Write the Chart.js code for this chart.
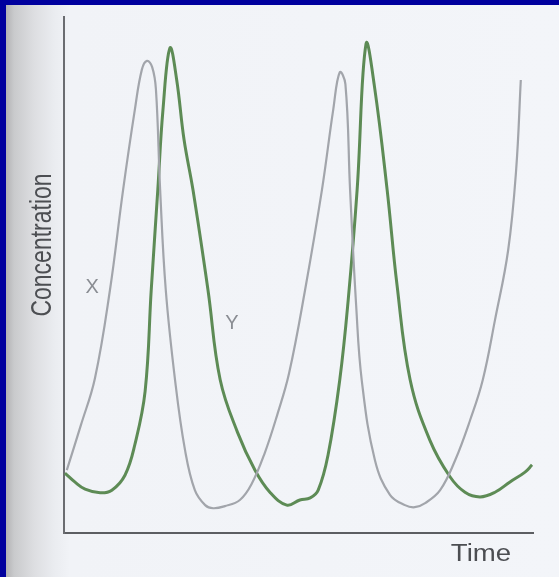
<!DOCTYPE html>
<html>
<head>
<meta charset="utf-8">
<script src="https://cdn.jsdelivr.net/npm/chart.js@4.4.0/dist/chart.umd.min.js"></script>
<style>
  html, body { margin: 0; padding: 0; }
  body { width: 559px; height: 577px; background: #00009e; position: relative; overflow: hidden; }
  #page {
    position: absolute; left: 6px; top: 5px; right: 0; bottom: 0;
    background: linear-gradient(to right, #b2b2b4 0px, #c9cacc 8px, #dddee1 28px, #eaecf0 48px, #f1f3f7 64px, #f3f5f9 100%);
  }
  #cv { position: absolute; left: 0; top: 0; filter: blur(0.5px); }
</style>
</head>
<body>
<div id="page"></div>
<canvas id="cv" width="559" height="577"></canvas>
<script>
// X (grey) – time and concentration samples
let timeX = [0.6, 3.6, 6.6, 9.8, 12.6, 15.1, 16.6, 17.7, 18.8, 19.6, 20.5, 21.7, 23.7, 25.8, 27.9, 30.1, 31.8,
             34.3, 37.5, 40.0, 42.8, 45.5, 48.0, 51.4, 55.0, 57.4, 58.8, 60.0, 61.0, 62.3, 63.5, 66.3, 69.5, 72.7,
             74.8, 77.0, 80.2, 83.4, 86.6, 89.3, 91.9, 94.7, 96.4, 97.4];
let concX = [12.2, 20.9, 30.0, 47.1, 66.5, 82.0, 89.8, 91.5, 90.3, 86.0, 66.5, 47.1, 29.5, 16.1, 8.3, 5.4, 4.8,
             5.2, 6.4, 9.5, 15.5, 23.0, 31.0, 47.1, 66.5, 82.0, 89.3, 87.0, 66.5, 44.0, 29.5, 14.1, 7.4, 5.4,
             5.0, 5.8, 8.3, 14.1, 21.9, 29.7, 41.3, 54.8, 70.3, 87.8];

// Y (green)
let timeY = [0.2, 2.3, 4.5, 7.7, 10.2, 13.0, 15.1, 17.3, 18.6, 20.0, 21.1, 22.6, 24.0, 25.6, 27.5, 30.7,
             33.3, 37.0, 40.7, 43.9, 47.5, 50.3, 52.5, 54.2, 56.3, 58.8, 60.6, 62.5, 64.4, 66.2, 68.9,
             71.0, 73.8, 78.0, 82.3, 85.5, 88.7, 91.9, 95.1, 98.3, 99.8];
let concY = [11.6, 9.9, 8.5, 7.8, 8.3, 11.2, 17.1, 27.5, 47.1, 66.5, 82.0, 94.0, 88.0, 76.2, 66.5, 47.1,
             29.7, 19.5, 12.2, 7.9, 5.4, 6.4, 6.8, 8.3, 15.1, 29.7, 45.2, 66.5, 94.8, 86.5, 66.5,
             48.1, 29.7, 18.0, 10.9, 7.9, 7.0, 7.9, 9.9, 11.8, 13.2];

// curve labels, placed in data units
let curveLabels = [
  { text: 'X', t: 6.0, c: 47.5 },
  { text: 'Y', t: 35.8, c: 40.7 }
];

function pts(ts, cs) {
  return ts.map(function(t, i) { return { x: t, y: cs[i] }; });
}

// axis titles drawn a bit wider than tall, like the printed figure
const axisText = {
  id: 'axisText',
  afterDraw(chart) {
    const ctx = chart.ctx;
    const a = chart.chartArea;
    const sx = chart.scales.x, sy = chart.scales.y;
    ctx.save();
    ctx.fillStyle = '#4c4e52';
    ctx.font = '23px "Liberation Sans", Arial, sans-serif';
    ctx.textAlign = 'center';
    ctx.textBaseline = 'middle';

    ctx.save();
    ctx.translate(a.left - 21, a.top + 228);
    ctx.rotate(-Math.PI / 2);
    ctx.scale(1, 1.25);
    ctx.fillText('Concentration', 0, 0);
    ctx.restore();

    ctx.save();
    ctx.translate(a.right - 52, a.bottom + 22);
    ctx.scale(1.2, 1);
    ctx.fillText('Time', 0, 0);
    ctx.restore();

    ctx.fillStyle = '#8a8d93';
    ctx.font = '20px "Liberation Sans", Arial, sans-serif';
    curveLabels.forEach(function(l) {
      ctx.fillText(l.text, sx.getPixelForValue(l.t), sy.getPixelForValue(l.c));
    });
    ctx.restore();
  }
};

new Chart(document.getElementById('cv').getContext('2d'), {
  type: 'line',
  data: {
    datasets: [
      {
        label: 'X',
        data: pts(timeX, concX),
        borderColor: '#a2a5ab',
        borderWidth: 2.2,
        pointRadius: 0,
        tension: 0.4,
        fill: false
      },
      {
        label: 'Y',
        data: pts(timeY, concY),
        borderColor: '#5d8b55',
        borderWidth: 3,
        pointRadius: 0,
        tension: 0.4,
        fill: false
      }
    ]
  },
  options: {
    responsive: false,
    animation: false,
    layout: { padding: { left: 64, top: 17, right: 26, bottom: 44 } },
    plugins: { legend: { display: false }, tooltip: { enabled: false } },
    scales: {
      x: {
        type: 'linear', min: 0, max: 100,
        ticks: { display: false },
        grid: { display: false, drawTicks: false },
        border: { color: '#5c5e62', width: 2 }
      },
      y: {
        type: 'linear', min: 0, max: 100,
        ticks: { display: false },
        grid: { display: false, drawTicks: false },
        border: { color: '#6a6c70', width: 2 }
      }
    }
  },
  plugins: [axisText]
});
</script>
</body>
</html>
